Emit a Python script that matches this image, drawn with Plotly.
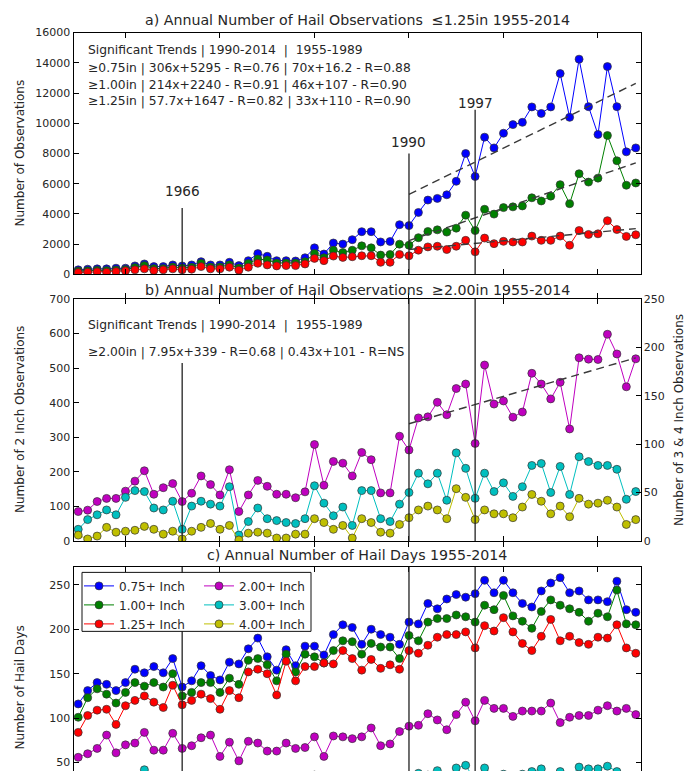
import plotly.graph_objects as go

W, H = 689, 778


def fx(px):
    return px / W


def fy(py):
    return 1 - py / H


years = list(range(1955, 2015))

# Annual hail observations (panel a)
obs_075 = [304, 347, 369, 369, 412, 412, 564, 694, 520, 520,
           629, 564, 629, 846, 629, 629, 802, 585, 911, 1380,
           1200, 911, 911, 889, 1106, 1760, 1350, 2080, 2010, 2300,
           2830, 2830, 2150, 2180, 3290, 3230, 4100, 4920, 5030, 5270,
           6160, 8000, 6480, 9080, 8370, 9340, 9910, 10060, 11080, 10650,
           11080, 13290, 10390, 14240, 11100, 9260, 13750, 11100, 8110, 8370]
obs_100 = [220, 250, 270, 260, 300, 320, 455, 585, 390, 400,
           500, 430, 480, 737, 490, 500, 640, 430, 720, 1020,
           954, 760, 760, 760, 846, 1390, 1106, 1600, 1450, 1600,
           1890, 1760, 1280, 1320, 2000, 1930, 2430, 2840, 2950, 2800,
           3060, 3920, 2900, 4310, 3990, 4420, 4470, 4530, 5070, 4860,
           5180, 5940, 4680, 6660, 6110, 6370, 9190, 7520, 5900, 6050]
obs_125 = [130, 152, 173, 152, 195, 238, 304, 369, 260, 304,
           369, 304, 347, 520, 369, 369, 477, 282, 477, 737,
           629, 564, 585, 585, 694, 1062, 911, 1214, 1127, 1171,
           1236, 1236, 802, 802, 1322, 1236, 1604, 1821, 1864, 1648,
           1864, 2255, 1496, 2406, 2038, 2190, 2146, 2146, 2537, 2255,
           2255, 2537, 1930, 2905, 2645, 2688, 3556, 2970, 2515, 2623]

# Large hail observations (panel b)
obs_200 = [85, 89, 114, 123, 123, 144, 173, 203, 135, 154,
           166, 114, 138, 188, 163, 133, 206, 85, 133, 175,
           158, 135, 135, 125, 142, 279, 161, 230, 225, 188,
           256, 235, 139, 139, 303, 263, 356, 359, 401, 365,
           441, 454, 282, 509, 396, 405, 358, 373, 485, 454,
           411, 459, 324, 530, 526, 525, 598, 541, 446, 527]
obs_300 = [12, 22, 27, 32, 27, 45, 52, 51, 34, 32,
           41, 12, 36, 41, 38, 36, 56, 6, 20, 34,
           23, 21, 19, 18, 23, 57, 39, 26, 35, 16,
           52, 52, 23, 20, 38, 50, 70, 59, 70, 42,
           91, 75, 44, 70, 51, 60, 46, 56, 78, 80,
           50, 77, 48, 87, 82, 78, 78, 74, 43, 51]
obs_400 = [6, 2, 5, 14, 9, 10, 11, 15, 12, 7,
           10, 2, 10, 14, 18, 12, 16, 1, 8, 9,
           8, 3, 3, 7, 7, 23, 19, 12, 16, 3,
           23, 19, 9, 8, 17, 24, 32, 36, 32, 23,
           54, 45, 22, 32, 28, 28, 24, 35, 48, 41,
           28, 36, 25, 44, 38, 39, 42, 35, 17, 22]

# Annual hail days (panel c)
days_075 = [116, 131, 140, 138, 131, 140, 155, 151, 158, 151,
            167, 135, 142, 159, 148, 143, 163, 161, 178, 190,
            169, 154, 177, 159, 181, 181, 171, 194, 205, 202,
            183, 200, 194, 191, 183, 208, 206, 229, 223, 234,
            239, 236, 240, 255, 241, 255, 241, 229, 225, 243,
            252, 258, 241, 243, 233, 233, 231, 254, 222, 219]
days_100 = [101, 123, 133, 127, 117, 129, 140, 136, 140, 135,
            150, 125, 129, 140, 140, 129, 145, 138, 165, 167,
            160, 142, 172, 152, 172, 169, 162, 176, 187, 186,
            172, 184, 180, 180, 167, 193, 187, 208, 212, 212,
            216, 214, 208, 227, 222, 238, 215, 209, 201, 220,
            233, 227, 223, 219, 209, 218, 214, 244, 206, 205]
days_125 = [84, 103, 109, 110, 93, 114, 120, 125, 118, 112,
            137, 115, 120, 127, 122, 110, 131, 123, 152, 155,
            150, 126, 164, 142, 158, 158, 162, 161, 176, 167,
            154, 166, 156, 160, 155, 176, 173, 182, 191, 194,
            194, 197, 179, 204, 198, 213, 197, 184, 176, 192,
            211, 187, 192, 185, 183, 191, 190, 205, 179, 173]
days_200 = [56, 60, 66, 81, 61, 70, 72, 84, 64, 64,
            83, 66, 69, 78, 81, 57, 73, 52, 74, 72,
            63, 63, 72, 66, 67, 79, 57, 80, 79, 77,
            79, 89, 69, 71, 85, 91, 92, 105, 98, 87,
            104, 118, 97, 120, 111, 111, 102, 108, 108, 108,
            117, 95, 101, 103, 103, 109, 114, 108, 111, 104]
days_300 = [10, 16, 19, 22, 20, 30, 34, 42, 24, 23,
            28, 10, 25, 28, 26, 25, 35, 6, 15, 24,
            17, 16, 14, 13, 17, 36, 27, 19, 25, 12,
            33, 33, 17, 15, 27, 33, 38, 36, 41, 30,
            44, 47, 30, 44, 35, 37, 32, 37, 40, 43,
            34, 40, 33, 45, 43, 43, 46, 40, 30, 34]
days_400 = [4, 2, 3, 9, 6, 7, 8, 10, 8, 5,
            7, 1, 7, 9, 12, 8, 11, 1, 6, 6,
            5, 2, 2, 5, 5, 15, 13, 8, 11, 2,
            15, 13, 6, 6, 12, 16, 20, 22, 20, 15,
            28, 25, 15, 20, 18, 18, 16, 21, 26, 24,
            18, 22, 16, 25, 22, 23, 24, 21, 12, 15]

# Linear trends 1990-2014 (x = years since 1990)
trend_years = list(range(1990, 2015))
trend_a_slopes = [306, 214, 57.7]
trend_a_intercepts = [5295, 2240, 1647]
trend_b_slope = 7.95
trend_b_intercept = 339

event_years = [1966, 1990, 1997]
event_tops_a = [4400, 8000, 10900]
event_labels_a = [5500, 8760, 11320]

C_B, C_G, C_R = '#0000ff', '#008000', '#ff0000'
C_M, C_C, C_Y = '#bf00bf', '#00bfbf', '#bfbf00'
FONT = 'DejaVu Sans'
TXT = '#262626'

fig = go.Figure()


def series(y, color, xa, ya, name=None, legend=None, rank=None):
    fig.add_trace(go.Scatter(
        x=years, y=y, mode='lines+markers', xaxis=xa, yaxis=ya,
        line=dict(color=color, width=1),
        marker=dict(color=color, size=8, line=dict(color='#333333', width=0.7)),
        name=name or '', showlegend=legend is not None,
        legend=legend or 'legend', legendrank=rank or 1000,
        hoverinfo='skip', cliponaxis=True))


def trend(slope, intercept, xa, ya):
    fig.add_trace(go.Scatter(
        x=trend_years, y=[slope * (t - 1990) + intercept for t in trend_years],
        mode='lines', xaxis=xa, yaxis=ya, showlegend=False, hoverinfo='skip',
        line=dict(color='#3a3a3a', width=1.4, dash='8px,5px')))


# Panel a
series(obs_075, C_B, 'x', 'y')
series(obs_100, C_G, 'x', 'y')
series(obs_125, C_R, 'x', 'y')
for s, b in zip(trend_a_slopes, trend_a_intercepts):
    trend(s, b, 'x', 'y')

# Panel b
series(obs_200, C_M, 'x2', 'y2')
series(obs_300, C_C, 'x2', 'y3')
series(obs_400, C_Y, 'x2', 'y3')
trend(trend_b_slope, trend_b_intercept, 'x2', 'y2')

# Panel c
series(days_075, C_B, 'x3', 'y4', '0.75+ Inch', 'legend', 1)
series(days_100, C_G, 'x3', 'y4', '1.00+ Inch', 'legend', 2)
series(days_125, C_R, 'x3', 'y4', '1.25+ Inch', 'legend', 3)
series(days_200, C_M, 'x3', 'y4', '2.00+ Inch', 'legend2', 4)
series(days_300, C_C, 'x3', 'y4', '3.00+ Inch', 'legend2', 5)
series(days_400, C_Y, 'x3', 'y4', '4.00+ Inch', 'legend2', 6)

xdom = [fx(73.5), fx(640.5)]
tickfont = dict(family=FONT, size=11, color=TXT)
common = dict(showline=True, linecolor='black', linewidth=1, ticks='inside',
              ticklen=5, tickcolor='black', showgrid=False, zeroline=False,
              tickfont=tickfont, tickformat='d')
xcommon = dict(common, domain=xdom, range=[1954.5, 2014.5],
               tickvals=list(range(1960, 2011, 10)), showticklabels=False)

shapes = []
# event markers, panel a
for yr, top in zip(event_years, event_tops_a):
    shapes.append(dict(type='line', xref='x', yref='y', x0=yr, x1=yr, y0=0, y1=top,
                       line=dict(color='#222222', width=1.3)))
# panel b
for yr, top in zip(event_years, [515, 700, 700]):
    shapes.append(dict(type='line', xref='x2', yref='y2', x0=yr, x1=yr, y0=0, y1=top,
                       line=dict(color='#222222', width=1.3)))
# panel c
for yr in event_years:
    shapes.append(dict(type='line', xref='x3', yref='y4 domain', x0=yr, x1=yr, y0=0, y1=1,
                       line=dict(color='#222222', width=1.3)))
# legend frame
shapes.append(dict(type='rect', xref='paper', yref='paper', layer='above',
                   x0=fx(82), x1=fx(311), y0=fy(636), y1=fy(576),
                   fillcolor='white', line=dict(color='#111111', width=1)))

ann = []


def text(x, y, s, size=12.3, anchor='left', angle=0, xref='paper', yref='paper'):
    ann.append(dict(x=x, y=y, xref=xref, yref=yref, text=s, showarrow=False,
                    xanchor=anchor, yanchor='middle', textangle=angle,
                    font=dict(family=FONT, size=size, color=TXT)))


text(fx(357), fy(14), 'a) Annual Number of Hail Observations  ≤1.25in 1955-2014', 14.2, 'center')
text(fx(357), fy(289), 'b) Annual Number of Hail Observations  ≥2.00in 1955-2014', 14.2, 'center')
text(fx(357), fy(558), 'c) Annual Number of Hail Days 1955-2014', 14.2, 'center')

text(fx(86), fy(45), 'Significant Trends | 1990-2014  |  1955-1989')
text(fx(86), fy(64), '≥0.75in | 306x+5295 - R=0.76 | 70x+16.2 - R=0.88')
text(fx(86), fy(81), '≥1.00in | 214x+2240 - R=0.91 | 46x+107 - R=0.90')
text(fx(86), fy(97), '≥1.25in | 57.7x+1647 - R=0.82 | 33x+110 - R=0.90')
text(fx(86), fy(325), 'Significant Trends | 1990-2014  |  1955-1989')
text(fx(86), fy(352), '≥2.00in | 7.95x+339 - R=0.68 | 0.43x+101 - R=NS')

for yr, ly in zip(event_years, event_labels_a):
    text(yr, ly, str(yr), 13.6, 'center', xref='x', yref='y')

text(fx(20), fy(150), 'Number of Observations', 12, 'center', -90)
text(fx(20), fy(421), 'Number of 2 Inch Observations', 12, 'center', -90)
text(fx(679), fy(421), 'Number of 3 & 4 Inch Observations', 12, 'center', -90)
text(fx(20), fy(693), 'Number of Hail Days', 12, 'center', -90)

legfont = dict(family=FONT, size=12, color=TXT)
fig.update_layout(
    width=W, height=H, margin=dict(l=0, r=0, t=0, b=0),
    paper_bgcolor='white', plot_bgcolor='white',
    xaxis=dict(xcommon, anchor='y', mirror='allticks'),
    yaxis=dict(common, domain=[fy(273), fy(27)], range=[0, 16000],
               tickvals=list(range(0, 16001, 2000)), anchor='x', mirror='allticks'),
    xaxis2=dict(xcommon, anchor='y2', mirror='allticks'),
    yaxis2=dict(common, domain=[fy(544), fy(298)], range=[0, 700],
                tickvals=list(range(0, 701, 100)), anchor='x2'),
    yaxis3=dict(common, overlaying='y2', side='right', range=[0, 250],
                tickvals=list(range(0, 251, 50)), anchor='x2'),
    xaxis3=dict(xcommon, anchor='y4', side='top'),
    yaxis4=dict(common, domain=[0, fy(570.5)], range=[40.6, 270],
                tickvals=[50, 100, 150, 200, 250], anchor='x3', mirror='allticks'),
    legend=dict(x=fx(79), y=fy(575), xanchor='left', yanchor='top',
                bgcolor='rgba(0,0,0,0)', font=legfont, tracegroupgap=0, itemwidth=30),
    legend2=dict(x=fx(199), y=fy(575), xanchor='left', yanchor='top',
                 bgcolor='rgba(0,0,0,0)', font=legfont, tracegroupgap=0, itemwidth=30),
    shapes=shapes, annotations=ann, showlegend=True,
)

fig.write_html('out.html')
